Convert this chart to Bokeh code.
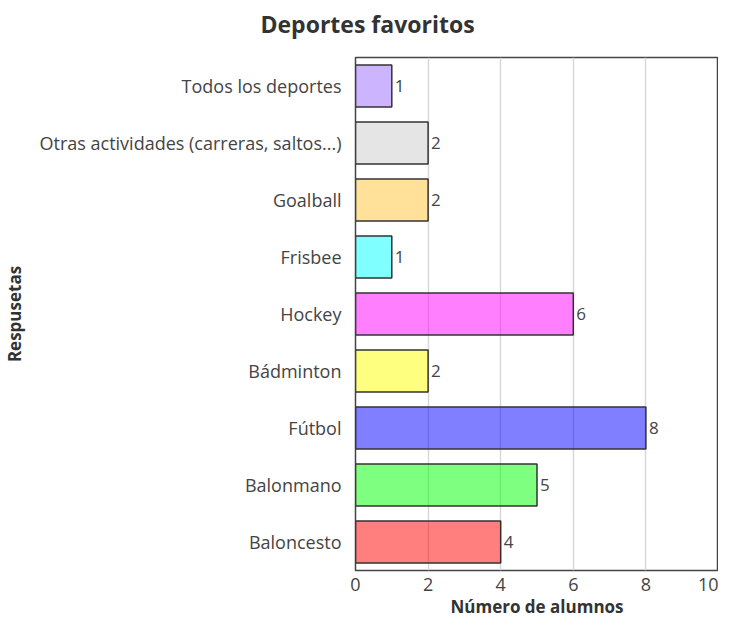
from bokeh.plotting import figure
from bokeh.models import ColumnDataSource, LabelSet, Title, FixedTicker
from bokeh.core.properties import value
from bokeh.embed import file_html
from bokeh.resources import INLINE

categories = ["Baloncesto", "Balonmano", "Fútbol", "Bádminton", "Hockey",
              "Frisbee", "Goalball", "Otras actividades (carreras, saltos...)",
              "Todos los deportes"]
values = [4, 5, 8, 2, 6, 1, 2, 2, 1]
colors = ["#FF0000", "#00FF00", "#0000FF", "#FFFF00", "#FF00FF",
          "#00FFFF", "#FFC335", "#CBCBCB", "#9B69FF"]
x_ticks = [0, 2, 4, 6, 8, 10]
title_text = "Deportes favoritos"

FONT = "Open Sans"
src = ColumnDataSource(dict(cat=categories, val=values, col=colors,
                            lab=[str(v) for v in values]))

p = figure(width=718, height=620, y_range=categories, x_range=(0, 10),
           output_backend="svg", toolbar_location=None,
           min_border_left=343, min_border_right=0, min_border_top=55,
           min_border_bottom=0)

p.hbar(y="cat", right="val", left=0, height=0.74, source=src,
       fill_color="col", fill_alpha=0.5, line_color="#333333", line_width=1.5)

labels = LabelSet(x="val", y="cat", text="lab", source=src, x_offset=3,
                  text_baseline="middle", text_font=value(FONT),
                  text_font_size="17px", text_color="#444444")
p.add_layout(labels)

# spacer between the title and the frame
p.add_layout(Title(text=" ", text_font_size="1px"), "above")
p.add_layout(Title(text=title_text, align="left", offset=-95,
                   text_font=FONT, text_font_size="23px",
                   text_font_style="bold", text_color="#333333"), "above")

p.xaxis.ticker = FixedTicker(ticks=x_ticks)
p.xaxis.axis_label = "Número de alumnos"
p.yaxis.axis_label = "Respusetas"
for ax in (p.xaxis, p.yaxis):
    ax.axis_label_text_font = FONT
    ax.axis_label_text_font_style = "bold"
    ax.axis_label_text_font_size = "17px"
    ax.axis_label_text_color = "#333333"
    ax.major_label_text_font = FONT
    ax.major_label_text_font_size = "18px"
    ax.major_label_text_color = "#444444"
    ax.major_tick_line_color = None
    ax.minor_tick_line_color = None
    ax.axis_line_color = None
p.yaxis.major_label_standoff = 8
p.xaxis.major_label_standoff = 1
p.yaxis.axis_label_standoff = 10
p.xaxis.axis_label_standoff = 1

p.xgrid.grid_line_color = "#d8d8d8"
p.xgrid.grid_line_width = 1.5
p.ygrid.grid_line_color = None
p.outline_line_color = "#444444"
p.outline_line_width = 1.5
p.y_range.range_padding = 0

open("out.html", "w").write(file_html(p, INLINE))
